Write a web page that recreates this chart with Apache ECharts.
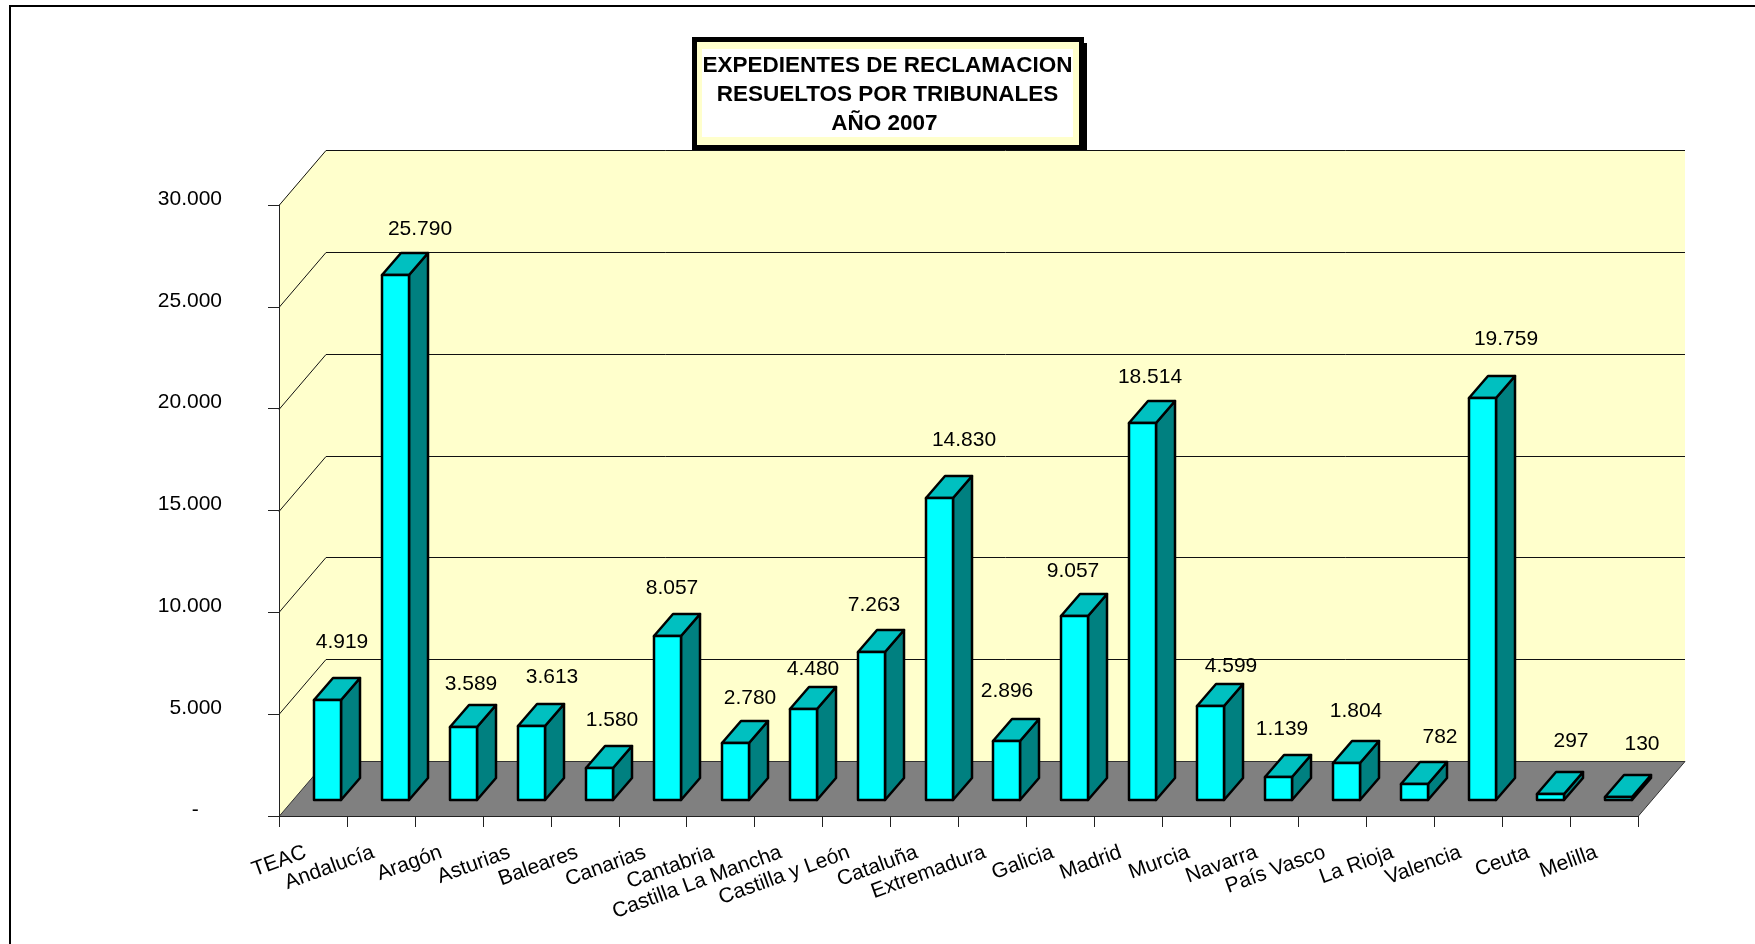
<!DOCTYPE html>
<html><head><meta charset="utf-8">
<style>html,body{margin:0;padding:0;background:#fff}#c{width:1755px;height:944px}</style>
<script src="https://cdn.jsdelivr.net/npm/echarts@6/dist/echarts.min.js"></script>
</head><body><div id="c"></div>
<script>
const titleLines = ['EXPEDIENTES DE RECLAMACION', 'RESUELTOS POR TRIBUNALES', 'AÑO 2007 '];
const categories = ['TEAC','Andalucía','Aragón','Asturias','Baleares','Canarias','Cantabria','Castilla La Mancha','Castilla y León','Cataluña','Extremadura','Galicia','Madrid','Murcia','Navarra','País Vasco','La Rioja','Valencia','Ceuta','Melilla'];
const values = [4919,25790,3589,3613,1580,8057,2780,4480,7263,14830,2896,9057,18514,4599,1139,1804,782,19759,297,130];
const valueTicks = [0,5000,10000,15000,20000,25000,30000];
const valueTickLabels = ['-    ','5.000','10.000','15.000','20.000','25.000','30.000'];
// Hand-placed data labels in the source: nudge from each bar's top corner.
const labelNudgeX = [1,11,-6,7,-1,-9,1,-4,-11,11,-13,-15,-6,7,-10,-4,12,10,7,10];
const labelLift = [37,25,22,28,27,27,24,19,26,37,29,24,25,19,27,31,26,38,32,32];

const FONT = '"Liberation Sans", Arial, sans-serif';
const WALL_DX = 47, WALL_DY = 55, BAR_W = 27, BAR_DX = 19, BAR_DY = 22, BAR_LIFT = 16, BAR_SHIFT = 1;
const fmt = v => String(v).replace(/\B(?=(\d{3})+$)/g, '.');
const snap = v => Math.round(v) + 0.5;

function renderWalls(params, api) {
  const cs = params.coordSys;
  const l = cs.x, r = cs.x + cs.width;
  const y0 = snap(api.coord([0, 0])[1]);
  const lineStyle = {stroke: '#111', lineWidth: 1, fill: null};
  const children = [
    {type: 'polygon', shape: {points: [[l, y0], [l + WALL_DX, y0 - WALL_DY], [l + WALL_DX, cs.y - WALL_DY], [l, cs.y]]}, style: {fill: '#FFFFCC'}},
    {type: 'rect', shape: {x: l + WALL_DX, y: cs.y - WALL_DY, width: cs.width, height: cs.height}, style: {fill: '#FFFFCC'}},
    {type: 'polygon', shape: {points: [[l, y0], [r, y0], [r + WALL_DX, y0 - WALL_DY], [l + WALL_DX, y0 - WALL_DY]]}, style: {fill: '#808080', stroke: '#333', lineWidth: 1}}
  ];
  valueTicks.forEach(t => {
    const y = snap(api.coord([0, t])[1]);
    if (t > 0) children.push({type: 'polyline', shape: {points: [[l, y], [l + WALL_DX, y - WALL_DY], [r + WALL_DX, y - WALL_DY]]}, style: lineStyle});
  });
  return {type: 'group', children};
}

function renderBar(params, api) {
  const i = api.value(0), v = api.value(1);
  const base = api.coord([i, 0]), top = api.coord([i, v]);
  const x0 = Math.round(base[0]) + BAR_SHIFT, x1 = x0 + BAR_W;
  const yb = Math.round(base[1] - BAR_LIFT), yt = Math.round(top[1] - BAR_LIFT);
  const edge = {stroke: '#000', lineWidth: 2.5, lineJoin: 'round'};
  return {type: 'group', children: [
    {type: 'polygon', shape: {points: [[x1, yb], [x1 + BAR_DX, yb - BAR_DY], [x1 + BAR_DX, yt - BAR_DY], [x1, yt]]}, style: {fill: '#008080', ...edge}},
    {type: 'polygon', shape: {points: [[x0, yt], [x1, yt], [x1 + BAR_DX, yt - BAR_DY], [x0 + BAR_DX, yt - BAR_DY]]}, style: {fill: '#00C0C0', ...edge}},
    {type: 'rect', shape: {x: x0, y: yt, width: BAR_W, height: yb - yt}, style: {fill: '#00FFFF', ...edge}},
    {type: 'text', style: {text: fmt(v), x: x1 + labelNudgeX[i], y: yt - BAR_DY - labelLift[i] + 1, align: 'center', verticalAlign: 'middle', fill: '#000', font: '21px ' + FONT}}
  ]};
}

const chart = echarts.init(document.getElementById('c'), null, {renderer: 'canvas'});
chart.setOption({
  animation: false,
  backgroundColor: '#fff',
  title: {
    text: titleLines.join('\n'), left: 882.5, top: 46, textAlign: 'center', z: 10,
    textStyle: {fontFamily: FONT, fontSize: 22.5, fontWeight: 'bold', color: '#000', lineHeight: 29}
  },
  grid: {left: 279, top: 205, width: 1359, height: 611, containLabel: false},
  xAxis: {
    type: 'category', data: categories, z: 5,
    axisLine: {show: true, lineStyle: {color: '#222', width: 1}},
    axisTick: {show: true, alignWithLabel: false, length: 11, lineStyle: {color: '#222', width: 1}},
    splitLine: {show: false},
    axisLabel: {interval: 0, rotate: 20, margin: 33, padding: [0, 8, 0, 0], color: '#000', fontFamily: FONT, fontSize: 21}
  },
  yAxis: {
    type: 'value', min: 0, max: 30000, interval: 5000, z: 5,
    axisLine: {show: true, lineStyle: {color: '#222', width: 1}},
    axisTick: {show: true, length: 11, lineStyle: {color: '#222', width: 1}},
    splitLine: {show: false},
    axisLabel: {margin: 57, verticalAlign: 'bottom', lineHeight: 12, color: '#000', fontFamily: FONT, fontSize: 21,
      formatter: v => valueTickLabels[valueTicks.indexOf(v)]}
  },
  graphic: [
    {type: 'polyline', z: 0, shape: {points: [[10, 944], [10, 6], [1755, 6]]}, style: {stroke: '#000', lineWidth: 2, fill: null}},
    {type: 'rect', z: 1, shape: {x: 696, y: 43, width: 391, height: 107}, style: {fill: '#000'}},
    {type: 'rect', z: 1, shape: {x: 692, y: 37, width: 392, height: 113}, style: {fill: '#000'}},
    {type: 'rect', z: 2, shape: {x: 697, y: 42, width: 382, height: 103}, style: {fill: '#FFFFCC'}},
    {type: 'rect', z: 3, shape: {x: 702, y: 49, width: 371, height: 88}, style: {fill: '#fff'}}
  ],
  series: [
    {type: 'custom', z: 1, silent: true, clip: false, coordinateSystem: 'cartesian2d', renderItem: renderWalls, data: [[0, 0]], encode: {x: 0, y: 1}},
    {type: 'custom', z: 2, silent: true, clip: false, coordinateSystem: 'cartesian2d', renderItem: renderBar, data: values.map((v, i) => [i, v]), encode: {x: 0, y: 1}}
  ]
});
</script></body></html>
